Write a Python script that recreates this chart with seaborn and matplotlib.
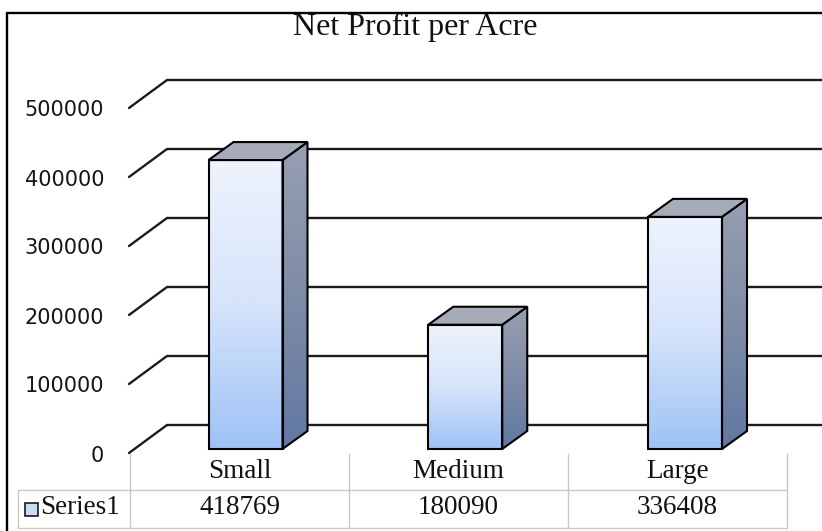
import numpy as np
import matplotlib
matplotlib.use("Agg")
import matplotlib.pyplot as plt
from matplotlib.patches import Polygon, Rectangle
from matplotlib.colors import LinearSegmentedColormap
import seaborn as sns

# ---- data ----
categories = ["Small", "Medium", "Large"]
values = [418769, 180090, 336408]
series_name = "Series1"
title = "Net Profit per Acre"
yticks = [0, 100000, 200000, 300000, 400000, 500000]

# ---- layout helpers (pixel -> data) ----
W, H = 822, 531
X0_PX, CAT_PX = 245.5, 219.75     # pixel x of first category, pixels per category
Y0_PX, VAL_PX = 449.0, 69.0       # pixel y of value 0 (front), pixels per 100000

def X(px):
    return (px - X0_PX) / CAT_PX

def Y(py):
    return (Y0_PX - py) * 100000.0 / VAL_PX

sns.set_theme(style="white")
fig = plt.figure(figsize=(W / 100, H / 100), dpi=100)
fig.patch.set_facecolor("white")
ax = fig.add_axes([0, 0, 1, 1])

BAR_W = 74 / CAT_PX
DX = 25 / CAT_PX
DY = 18 * 100000.0 / VAL_PX

sns.barplot(x=categories, y=values, ax=ax, width=BAR_W, color="#b8d0f5",
            saturation=1, edgecolor="black", linewidth=1.5, zorder=6)

front_cmap = LinearSegmentedColormap.from_list("front", ["#eef3fd", "#d6e4fb", "#9ec2f6"])
side_cmap = LinearSegmentedColormap.from_list("side", ["#979fb1", "#7f8ca6", "#6178a3"])
grad = np.linspace(0, 1, 256).reshape(-1, 1)

for p in list(ax.patches):
    x0, w, h = p.get_x(), p.get_width(), p.get_height()
    p.set_facecolor("none")
    # front gradient
    im = ax.imshow(grad, extent=(x0, x0 + w, 0, h), origin="upper", aspect="auto",
                   cmap=front_cmap, zorder=5, interpolation="bilinear")
    im.set_clip_path(p)
    # side face
    side = Polygon([(x0 + w, 0), (x0 + w + DX, DY), (x0 + w + DX, h + DY), (x0 + w, h)],
                   closed=True, facecolor="none", edgecolor="black", linewidth=1.5, zorder=6)
    ax.add_patch(side)
    ims = ax.imshow(grad, extent=(x0 + w, x0 + w + DX, 0, h + DY), origin="upper",
                    aspect="auto", cmap=side_cmap, zorder=5, interpolation="bilinear")
    ims.set_clip_path(side)
    # top face
    top = Polygon([(x0, h), (x0 + w, h), (x0 + w + DX, h + DY), (x0 + DX, h + DY)],
                  closed=True, facecolor="#a6abb9", edgecolor="black", linewidth=1.5, zorder=6)
    ax.add_patch(top)

# ---- gridlines (back wall + floor diagonals) ----
wall_off = Y(425) - Y(449)
front_off = Y(453) - Y(449)
for t in yticks:
    ax.plot([X(167), X(W)], [t + wall_off, t + wall_off], color="#1c1c1c", lw=1.7, zorder=2,
            solid_capstyle="butt")
    ax.plot([X(129), X(167)], [t + front_off, t + wall_off], color="#1c1c1c", lw=1.7, zorder=2)
    ax.text(X(104), t + front_off - 2.5 * 100000 / VAL_PX, f"{t}", ha="right", va="center",
            fontsize=15, family="DejaVu Sans", color="#151515")

# ---- title ----
ax.text(X(415), Y(27), title, ha="center", va="center", fontsize=23,
        family="Liberation Serif", color="#111111")

# ---- outer frame ----
ax.plot([X(7), X(7)], [Y(13), Y(H + 5)], color="black", lw=1.7, clip_on=False, zorder=8)
ax.plot([X(7), X(W + 5)], [Y(13), Y(13)], color="black", lw=1.7, clip_on=False, zorder=8)

# ---- data table ----
tc = "#c9c9c9"
col_edges_px = [130, 349, 568, 787]
for xe in col_edges_px:
    ax.plot([X(xe), X(xe)], [Y(454), Y(528)], color=tc, lw=1.0, zorder=3)
ax.plot([X(18), X(787)], [Y(490), Y(490)], color=tc, lw=1.0, zorder=3)
ax.plot([X(18), X(787)], [Y(528), Y(528)], color=tc, lw=1.0, zorder=3)
ax.plot([X(18), X(18)], [Y(490), Y(528)], color=tc, lw=1.0, zorder=3)

for i, (c, v) in enumerate(zip(categories, values)):
    cx = (col_edges_px[i] + col_edges_px[i + 1]) / 2
    ax.text(X(cx), Y(471), c, ha="center", va="center", fontsize=19.5,
            family="Liberation Serif", color="#111111")
    ax.text(X(cx), Y(508), f"{v}", ha="center", va="center", fontsize=19.5,
            family="Liberation Serif", color="#111111")

ax.add_patch(Rectangle((X(25), Y(516)), X(38) - X(25), Y(503) - Y(516),
                       facecolor="#c8daf7", edgecolor="#1a1a1a", lw=1.2, zorder=4))
ax.text(X(40), Y(508), series_name, ha="left", va="center", fontsize=19.5,
        family="Liberation Serif", color="#111111")

ax.set_xlim(X(0), X(W))
ax.set_ylim(Y(H), Y(0))
ax.axis("off")

fig.savefig("out.png", dpi=100, facecolor="white")
